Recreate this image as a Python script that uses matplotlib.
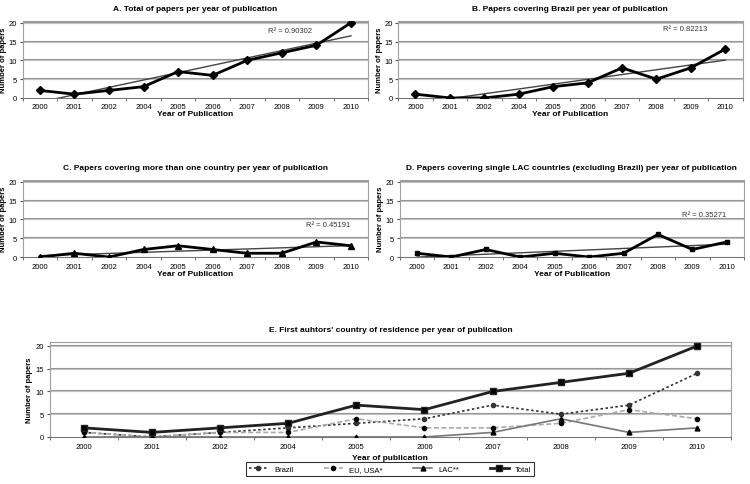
import matplotlib.pyplot as plt
import numpy as np

plt.rcParams['font.family'] = ['Liberation Sans', 'DejaVu Sans']

years = ['2000', '2001', '2002', '2004', '2005', '2006', '2007', '2008', '2009', '2010']

total = [2, 1, 2, 3, 7, 6, 10, 12, 14, 20]
brazil_cov = [1, 0, 0, 1, 3, 4, 8, 5, 8, 13]
multi_country = [0, 1, 0, 2, 3, 2, 1, 1, 4, 3]
single_lac = [1, 0, 2, 0, 1, 0, 1, 6, 2, 4]

# first author residence
fa_brazil = [1, 0, 1, 2, 3, 4, 7, 5, 7, 14]
fa_eu_usa = [1, 0, 1, 1, 4, 2, 2, 3, 6, 4]
fa_lac = [0, 0, 0, 0, 0, 0, 1, 4, 1, 2]
fa_total = [2, 1, 2, 3, 7, 6, 10, 12, 14, 20]

r2_texts = ['R² = 0.90302', 'R² = 0.82213', 'R² = 0.45191', 'R² = 0.35271']

fig = plt.figure(figsize=(7.5, 4.85), dpi=100)


def style_ax(ax, ytop):
    x = np.arange(len(years))
    ax.set_xlim(-0.5, len(years) - 0.5)
    ax.set_ylim(0, ytop)
    ax.set_yticks([0, 5, 10, 15, 20])
    ax.set_xticks(x)
    ax.set_xticklabels(years)
    ax.set_xticks(np.arange(-0.5, len(years), 1), minor=True)
    ax.tick_params(axis='x', which='major', length=0, labelsize=5.5, pad=4)
    ax.tick_params(axis='x', which='minor', length=2, color='#555555')
    ax.tick_params(axis='y', length=2, labelsize=5.5, pad=2, color='#555555')
    for s in ax.spines.values():
        s.set_color('#a0a0a0')
        s.set_linewidth(0.8)
    ax.spines['bottom'].set_color('#777777')
    for v in [5, 10, 15, 20]:
        ax.axhline(v, color='#959595', lw=1.5, zorder=1)
        ax.axhline(v, color='#d8d8d8', lw=0.5, zorder=1)
    ax.set_axisbelow(True)


def small_panel(rect, title, values, marker, ms, r2, r2pos):
    ax = fig.add_axes(rect)
    style_ax(ax, 20.5)
    x = np.arange(len(years))
    ax.plot(x, values, color='black', lw=2, marker=marker, ms=ms, zorder=4)
    k, b = np.polyfit(x, values, 1)
    ax.plot(x, k * x + b, color='#444444', lw=1, zorder=3)
    ax.text(r2pos[0], r2pos[1], r2, fontsize=5.5, color='#333333')
    ax.set_title(title, fontsize=6, fontweight='bold', pad=8)
    ax.set_xlabel('Year of Publication', fontsize=6, fontweight='bold', labelpad=0)
    ax.set_ylabel('Number of papers', fontsize=5.5, fontweight='bold', labelpad=1)
    return ax


small_panel([0.030, 0.796, 0.461, 0.159], 'A. Total of papers per year of publication',
            total, 'D', 4, r2_texts[0], (6.6, 17.6))
small_panel([0.531, 0.796, 0.459, 0.159], 'B. Papers covering Brazil per year of publication',
            brazil_cov, 'D', 4, r2_texts[1], (7.2, 18.0))
small_panel([0.030, 0.468, 0.461, 0.159], 'C. Papers covering more than one country per year of publication',
            multi_country, '^', 4, r2_texts[2], (7.7, 8.2))
small_panel([0.533, 0.468, 0.459, 0.159], 'D. Papers covering single LAC countries (excluding Brazil) per year of publication',
            single_lac, 's', 3.5, r2_texts[3], (7.7, 10.8))

axe = fig.add_axes([0.066, 0.097, 0.909, 0.196])
style_ax(axe, 20.9)
x = np.arange(len(years))
axe.plot(x, fa_brazil, color='#333333', lw=1.2, ls=(0, (1.5, 1.5)), marker='o', ms=3,
         zorder=4, label='Brazil')
axe.plot(x, fa_eu_usa, color='#aaaaaa', lw=1.2, ls=(0, (3, 1.5)), marker='o', ms=3,
         mfc='black', mec='black', zorder=4, label='EU, USA*')
axe.plot(x, fa_lac, color='#777777', lw=1.2, marker='^', ms=3.5,
         mfc='black', mec='black', zorder=4, label='LAC**')
axe.plot(x, fa_total, color='#222222', lw=2, marker='s', ms=4, mfc='black', zorder=5,
         label='Total')
axe.set_title("E. First auhtors' country of residence per year of publication",
              fontsize=6, fontweight='bold', pad=8)
axe.set_xlabel('Year of publication', fontsize=6, fontweight='bold', labelpad=3)
axe.set_ylabel('Number of papers', fontsize=5.5, fontweight='bold', labelpad=2)

leg = fig.legend(loc='center', bbox_to_anchor=(0.52, 0.031), ncol=4, fontsize=5.5,
                 frameon=True, fancybox=False, edgecolor='black', columnspacing=4,
                 handlelength=2.5, borderpad=0.4)
leg.get_frame().set_linewidth(0.8)

fig.savefig('out.png', dpi=100)
